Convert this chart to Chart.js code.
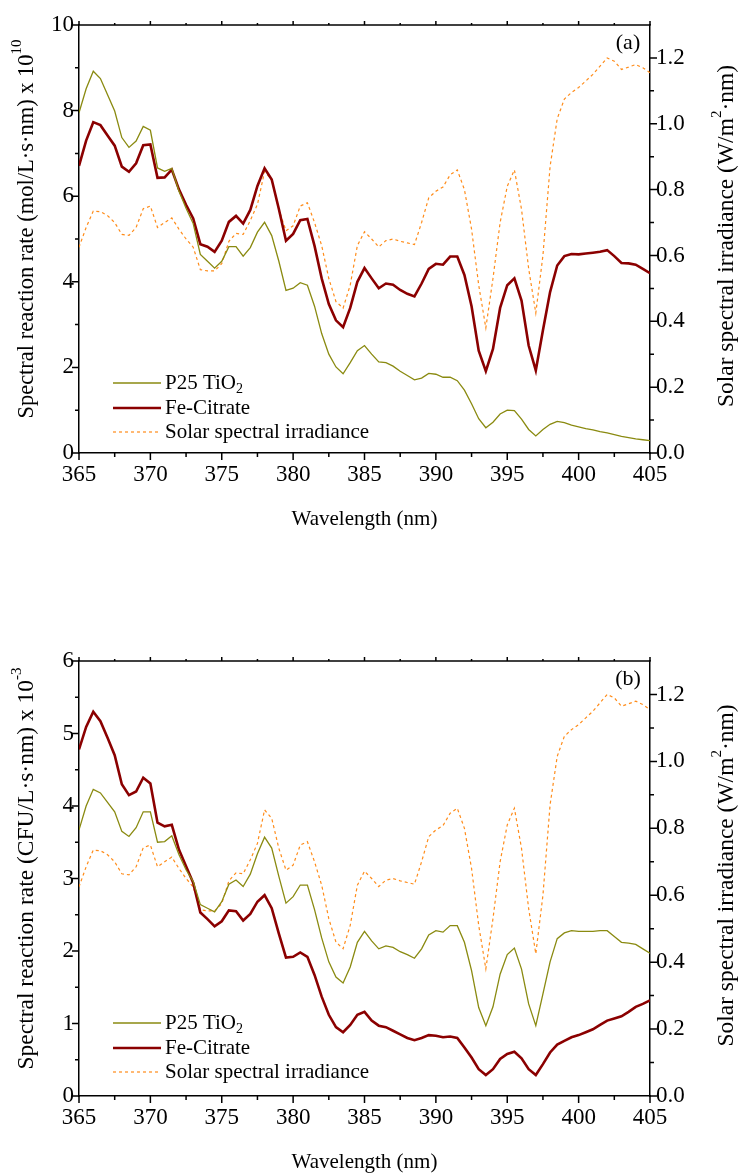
<!DOCTYPE html>
<html><head><meta charset="utf-8">
<script src="https://cdn.jsdelivr.net/npm/chart.js@4.4.1/dist/chart.umd.min.js"></script>
<style>html,body{margin:0;padding:0;background:#fff;width:741px;height:1173px;overflow:hidden;} canvas{position:absolute;left:0;display:block;}</style>
</head><body>
<canvas id="ca" width="741" height="586" style="top:0"></canvas>
<canvas id="cb" width="741" height="587" style="top:586px"></canvas>
<script>
const wavelength = [365,365.5,366,366.5,367,367.5,368,368.5,369,369.5,370,370.5,371,371.5,372,372.5,373,373.5,374,374.5,375,375.5,376,376.5,377,377.5,378,378.5,379,379.5,380,380.5,381,381.5,382,382.5,383,383.5,384,384.5,385,385.5,386,386.5,387,387.5,388,388.5,389,389.5,390,390.5,391,391.5,392,392.5,393,393.5,394,394.5,395,395.5,396,396.5,397,397.5,398,398.5,399,399.5,400,400.5,401,401.5,402,402.5,403,403.5,404,404.5,405];

const solarIrradiance = [0.625,0.685,0.735,0.733,0.721,0.700,0.664,0.661,0.685,0.742,
0.750,0.685,0.700,0.714,0.680,0.650,0.625,0.557,0.553,0.553,
0.575,0.643,0.667,0.664,0.706,0.755,0.855,0.830,0.740,0.675,
0.690,0.750,0.760,0.700,0.630,0.530,0.460,0.440,0.510,0.630,
0.672,0.650,0.626,0.645,0.650,0.643,0.638,0.633,0.700,0.775,
0.795,0.808,0.845,0.860,0.800,0.680,0.510,0.380,0.530,0.700,
0.810,0.860,0.740,0.560,0.425,0.600,0.870,1.015,1.075,1.095,
1.110,1.130,1.150,1.175,1.200,1.190,1.165,1.172,1.180,1.170,1.155];

const feCitrateA = [6.71,7.30,7.73,7.66,7.42,7.18,6.69,6.57,6.77,7.19,
7.21,6.43,6.44,6.62,6.16,5.80,5.48,4.88,4.82,4.70,
4.96,5.40,5.54,5.36,5.68,6.24,6.65,6.39,5.70,4.96,
5.12,5.44,5.47,4.84,4.08,3.48,3.10,2.94,3.39,4.00,
4.32,4.08,3.85,3.96,3.93,3.81,3.72,3.66,3.96,4.30,
4.42,4.40,4.59,4.59,4.16,3.43,2.39,1.91,2.43,3.39,
3.92,4.08,3.56,2.51,1.93,2.87,3.76,4.38,4.60,4.65,
4.64,4.66,4.68,4.70,4.74,4.60,4.44,4.43,4.40,4.30,4.20];

const p25A = [7.95,8.51,8.92,8.75,8.37,7.99,7.37,7.14,7.29,7.63,
7.54,6.66,6.58,6.65,6.12,5.72,5.36,4.64,4.48,4.32,
4.48,4.82,4.82,4.60,4.80,5.16,5.39,5.08,4.48,3.80,
3.85,3.98,3.92,3.43,2.79,2.31,2.01,1.85,2.11,2.39,
2.51,2.31,2.13,2.11,2.03,1.91,1.81,1.71,1.75,1.86,
1.84,1.77,1.77,1.69,1.47,1.15,0.80,0.59,0.72,0.91,
1.00,0.99,0.79,0.55,0.40,0.55,0.67,0.74,0.71,0.65,
0.61,0.57,0.54,0.50,0.47,0.43,0.39,0.36,0.33,0.31,0.29];

const feCitrateB = [4.78,5.09,5.30,5.17,4.94,4.70,4.30,4.15,4.20,4.39,
4.31,3.77,3.72,3.74,3.40,3.17,2.94,2.53,2.44,2.34,
2.41,2.56,2.55,2.42,2.51,2.68,2.77,2.59,2.24,1.91,
1.92,1.98,1.92,1.67,1.37,1.12,0.95,0.88,0.98,1.12,
1.16,1.04,0.97,0.95,0.90,0.85,0.80,0.77,0.80,0.84,
0.83,0.81,0.82,0.80,0.67,0.53,0.37,0.29,0.37,0.51,
0.58,0.61,0.52,0.37,0.29,0.44,0.60,0.71,0.76,0.81,
0.84,0.88,0.92,0.98,1.04,1.07,1.10,1.16,1.23,1.27,1.32];

const p25B = [3.67,4.00,4.23,4.18,4.05,3.92,3.65,3.58,3.70,3.92,
3.92,3.50,3.51,3.59,3.33,3.12,2.96,2.64,2.59,2.54,
2.68,2.92,2.98,2.89,3.06,3.34,3.57,3.42,3.03,2.66,
2.75,2.91,2.91,2.57,2.18,1.85,1.64,1.56,1.78,2.12,
2.27,2.14,2.03,2.07,2.05,1.99,1.95,1.90,2.03,2.22,
2.28,2.26,2.35,2.35,2.12,1.73,1.22,0.97,1.23,1.68,
1.95,2.04,1.75,1.27,0.97,1.41,1.85,2.17,2.25,2.28,
2.27,2.27,2.27,2.28,2.28,2.20,2.12,2.11,2.09,2.03,1.97];

const xTicks = [365,370,375,380,385,390,395,400,405];
const leftTicksA = [0,2,4,6,8,10];
const leftTicksB = [0,1,2,3,4,5,6];
const rightTicks = [0.0,0.2,0.4,0.6,0.8,1.0,1.2];

const FONT = '"Liberation Serif","Times New Roman",serif';
const C_P25 = '#8a8a10';
const C_FE = '#8b0000';
const C_SOLAR = '#ff8c1a';

function mids(arr){ const r=[]; for(let i=0;i<arr.length-1;i++) r.push((arr[i]+arr[i+1])/2); return r; }

function drawRich(ctx, segs, x, y, rot){
  ctx.save();
  ctx.translate(x,y); ctx.rotate(rot);
  let total=0;
  segs.forEach(s=>{ ctx.font = s.size+'px '+FONT; s.w = ctx.measureText(s.t).width; total+=s.w; });
  let cx = -total/2;
  ctx.textBaseline='middle'; ctx.textAlign='left'; ctx.fillStyle='#000';
  segs.forEach(s=>{ ctx.font = s.size+'px '+FONT; ctx.fillText(s.t, cx, s.dy||0); cx+=s.w; });
  ctx.restore();
}

function build(id, o){
  const W = 741, H = o.h;
  const deco = {
    id:'deco',
    afterDraw(chart){
      const ctx = chart.ctx, a = chart.chartArea;
      const sx = chart.scales.x, sy = chart.scales.y, sr = chart.scales.y1;
      ctx.save();
      ctx.strokeStyle='#000'; ctx.lineWidth=1.5; ctx.lineCap='butt';
      ctx.beginPath(); ctx.moveTo(a.left-0.75,a.top); ctx.lineTo(a.right+0.75,a.top); ctx.stroke();
      ctx.beginPath();
      xTicks.forEach(v=>{ const p=sx.getPixelForValue(v); ctx.moveTo(p,a.bottom); ctx.lineTo(p,a.bottom+7); ctx.moveTo(p,a.top); ctx.lineTo(p,a.top-4); });
      mids(xTicks).forEach(v=>{ const p=sx.getPixelForValue(v); ctx.moveTo(p,a.bottom); ctx.lineTo(p,a.bottom+4); ctx.moveTo(p,a.top); ctx.lineTo(p,a.top-2); });
      o.leftTicks.forEach(v=>{ const p=sy.getPixelForValue(v); ctx.moveTo(a.left,p); ctx.lineTo(a.left-7,p); });
      mids(o.leftTicks).forEach(v=>{ const p=sy.getPixelForValue(v); ctx.moveTo(a.left,p); ctx.lineTo(a.left-4,p); });
      rightTicks.forEach(v=>{ const p=sr.getPixelForValue(v); ctx.moveTo(a.right,p); ctx.lineTo(a.right+7,p); });
      mids(rightTicks).forEach(v=>{ const p=sr.getPixelForValue(v); ctx.moveTo(a.right,p); ctx.lineTo(a.right+4,p); });
      ctx.stroke();
      const items = [
        {c:C_P25, w:1.3, dash:[], segs:[{t:'P25 TiO',size:21},{t:'2',size:14,dy:6}]},
        {c:C_FE, w:2.6, dash:[], segs:[{t:'Fe-Citrate',size:21}]},
        {c:C_SOLAR, w:1.2, dash:[3,3], segs:[{t:'Solar spectral irradiance',size:21}]}
      ];
      items.forEach((it,i)=>{
        const y = o.legendY[i];
        ctx.strokeStyle=it.c; ctx.lineWidth=it.w; ctx.setLineDash(it.dash);
        ctx.beginPath(); ctx.moveTo(113,y); ctx.lineTo(161,y); ctx.stroke();
        ctx.setLineDash([]);
        let cx = 165;
        ctx.fillStyle='#000'; ctx.textBaseline='middle'; ctx.textAlign='left';
        it.segs.forEach(s=>{ ctx.font=s.size+'px '+FONT; ctx.fillText(s.t,cx,y+(s.dy||0)); cx+=ctx.measureText(s.t).width; });
      });
      ctx.font='22px '+FONT; ctx.fillStyle='#000'; ctx.textAlign='center'; ctx.textBaseline='middle';
      ctx.fillText(o.panel, 628, a.top+18);
      ctx.restore();
      drawRich(ctx, o.leftTitle, 27, (a.top+a.bottom)/2 - 10, -Math.PI/2);
      drawRich(ctx, o.rightTitle, 727, (a.top+a.bottom)/2 - 3, -Math.PI/2);
      drawRich(ctx, [{t:'Wavelength (nm)',size:21}], (a.left+a.right)/2, a.bottom+66, 0);
    }
  };
  const tickFont = {family:FONT, size:23};
  return new Chart(document.getElementById(id), {
    type:'line',
    data:{datasets:[
      {label:'P25 TiO2', data:wavelength.map((x,i)=>({x:x,y:o.p25[i]})), borderColor:C_P25, borderWidth:1.3, pointRadius:0, tension:0, yAxisID:'y'},
      {label:'Fe-Citrate', data:wavelength.map((x,i)=>({x:x,y:o.fe[i]})), borderColor:C_FE, borderWidth:2.6, pointRadius:0, tension:0, yAxisID:'y'},
      {label:'Solar spectral irradiance', data:wavelength.map((x,i)=>({x:x,y:solarIrradiance[i]})), borderColor:C_SOLAR, borderWidth:1.2, borderDash:[3,3], pointRadius:0, tension:0, yAxisID:'y1'}
    ]},
    options:{
      responsive:false, animation:false, devicePixelRatio:1,
      layout:{padding:{top:o.top,left:0,right:0,bottom:0}},
      plugins:{legend:{display:false}, tooltip:{enabled:false}},
      scales:{
        x:{type:'linear', min:365, max:405,
          afterBuildTicks:s=>{s.ticks=xTicks.map(v=>({value:v}));},
          afterFit:s=>{s.height=H-o.bottom;},
          grid:{display:false, drawTicks:false}, border:{display:true,color:'#000',width:1.5},
          ticks:{font:tickFont, color:'#000', padding:8, maxRotation:0, autoSkip:false, callback:v=>String(v)}},
        y:{type:'linear', position:'left', min:0, max:o.leftMax,
          afterBuildTicks:s=>{s.ticks=o.leftTicks.map(v=>({value:v}));},
          afterFit:s=>{s.width=o.left;},
          grid:{display:false, drawTicks:false}, border:{display:true,color:'#000',width:1.5},
          ticks:{font:tickFont, color:'#000', padding:5, autoSkip:false, callback:v=>String(v)}},
        y1:{type:'linear', position:'right', min:0, max:1.3,
          afterBuildTicks:s=>{s.ticks=rightTicks.map(v=>({value:v}));},
          afterFit:s=>{s.width=W-o.right;},
          grid:{display:false, drawTicks:false}, border:{display:true,color:'#000',width:1.5},
          ticks:{font:tickFont, color:'#000', padding:6, autoSkip:false, callback:v=>Number(v).toFixed(1)}}
      }
    },
    plugins:[deco]
  });
}

build('ca', {h:586, top:25, bottom:453, left:79, right:650, leftMax:10, leftTicks:leftTicksA,
  p25:p25A, fe:feCitrateA, panel:'(a)', legendY:[383,408,432],
  leftTitle:[{t:'Spectral reaction rate (mol/L\u00b7s\u00b7nm) x 10',size:22.5},{t:'10',size:15,dy:-10}],
  rightTitle:[{t:'Solar spectral irradiance (W/m',size:23.5},{t:'2',size:15,dy:-10},{t:'\u00b7nm)',size:23.5}]});
build('cb', {h:587, top:75, bottom:510, left:79, right:650, leftMax:6, leftTicks:leftTicksB,
  p25:p25B, fe:feCitrateB, panel:'(b)', legendY:[437,462,486],
  leftTitle:[{t:'Spectral reaction rate (CFU/L\u00b7s\u00b7nm) x 10',size:23.5},{t:'-3',size:15,dy:-10}],
  rightTitle:[{t:'Solar spectral irradiance (W/m',size:23.5},{t:'2',size:15,dy:-10},{t:'\u00b7nm)',size:23.5}]});
</script>
</body></html>
